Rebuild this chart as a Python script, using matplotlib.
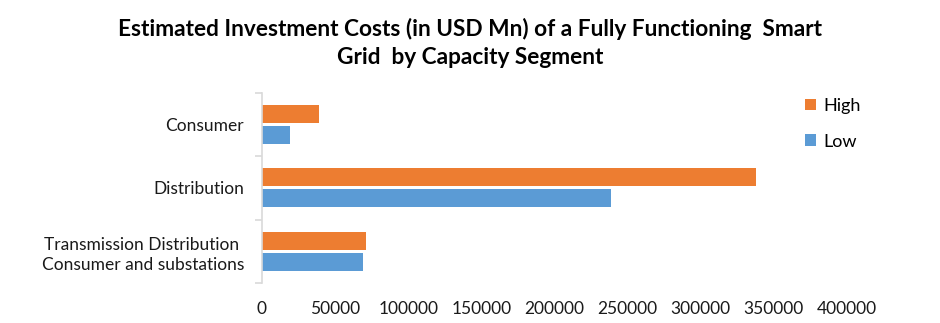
import numpy as np
import matplotlib.pyplot as plt

plt.rcParams['font.family'] = ['Lato', 'DejaVu Sans']

# categories listed bottom to top
categories = ["Transmission Distribution \nConsumer and substations", "Distribution", "Consumer"]
high = [71000, 338000, 39000]
low = [69000, 239000, 19000]
xticks = [0, 50000, 100000, 150000, 200000, 250000, 300000, 350000, 400000]

orange = '#ED7D31'
blue = '#5B9BD5'

fig = plt.figure(figsize=(9.4, 3.23), dpi=100)
ax = fig.add_axes([0.2787, 0.124, 0.6223, 0.589])

y = np.arange(len(categories))
h = 0.28
ax.barh(y + 0.165, high, height=h, color=orange, label='High')
ax.barh(y - 0.165, low, height=h, color=blue, label='Low')

ax.set_xlim(0, 400000)
ax.set_ylim(-0.5, 2.5)
ax.set_xticks(xticks)
ax.set_xticklabels([str(t) for t in xticks])
ax.set_yticks(y)
ax.set_yticklabels(categories, linespacing=1.35)
ax.set_yticks([-0.5, 0.5, 1.5, 2.5], minor=True)

for s in ['top', 'right', 'bottom']:
    ax.spines[s].set_visible(False)
ax.spines['left'].set_color('#D9D9D9')
ax.spines['left'].set_linewidth(1.2)

ax.tick_params(axis='y', which='major', length=0, pad=13, labelsize=12.5, labelcolor='#1a1a1a')
ax.tick_params(axis='y', which='minor', length=5, color='#D9D9D9', width=1.2)
ax.tick_params(axis='x', length=0, pad=13, labelsize=12.5, labelcolor='#1a1a1a')

fig.suptitle("Estimated Investment Costs (in USD Mn) of a Fully Functioning  Smart\nGrid  by Capacity Segment",
             x=0.5, y=0.945, fontsize=16.3, fontweight='bold', linespacing=1.45)

handles, labels = ax.get_legend_handles_labels()
fig.legend(handles, labels, loc='upper left', bbox_to_anchor=(0.839, 0.748),
           frameon=False, fontsize=13, handlelength=0.6, handleheight=0.6,
           handletextpad=0.45, labelspacing=1.1)

fig.savefig('out.png', dpi=100)
